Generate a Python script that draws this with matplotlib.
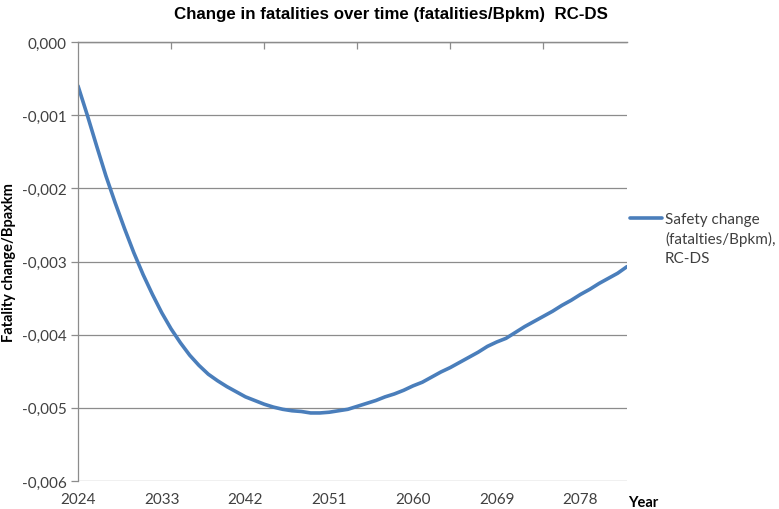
"""Change in fatalities over time (fatalities/Bpkm), RC-DS."""
import numpy as np
import matplotlib; matplotlib.use("Agg")
import matplotlib.pyplot as plt
from matplotlib.ticker import FuncFormatter

years = list(range(2024, 2084))
safety_change = [
    -0.00060, -0.00100, -0.00142, -0.00183, -0.00220, -0.00255, -0.00288, -0.00318,
    -0.00345, -0.00370, -0.00392, -0.00411, -0.00428, -0.00442, -0.00454, -0.00463,
    -0.00471, -0.00478, -0.00485, -0.00490, -0.00495, -0.00499, -0.00502, -0.00504,
    -0.00505, -0.00507, -0.00507, -0.00506, -0.00504, -0.00502, -0.00498, -0.00494,
    -0.00490, -0.00485, -0.00481, -0.00476, -0.00470, -0.00465, -0.00458, -0.00451,
    -0.00445, -0.00438, -0.00431, -0.00424, -0.00416, -0.00410, -0.00405, -0.00397,
    -0.00389, -0.00382, -0.00375, -0.00368, -0.00360, -0.00353, -0.00345, -0.00338,
    -0.00330, -0.00323, -0.00316, -0.00307,
]
label_years = [2024, 2033, 2042, 2051, 2060, 2069, 2078]
top_tick_years = [2034, 2044, 2054, 2064, 2074]
y_ticks = [0.0, -0.001, -0.002, -0.003, -0.004, -0.005, -0.006]
legend_lines = ["Safety change", "(fatalties/Bpkm),", "RC-DS"]

GRID = "#8c8c8c"
LINE = "#4a7ebb"
TXT = "#404040"
BODY = "Lato"

fig = plt.figure(figsize=(7.79, 5.10), dpi=100)
ax = fig.add_axes([78/779, 1 - 482/510, (627 - 78)/779, (482 - 43)/510])

ax.plot(years, safety_change, color=LINE, lw=2.6, solid_capstyle="round",
        label=legend_lines[0])

ax.set_xlim(2024, 2083)
ax.set_ylim(-0.006, 0.0)
ax.set_yticks(y_ticks)
ax.yaxis.set_major_formatter(FuncFormatter(lambda v, p: f"{v:.3f}".replace(".", ",").replace("-0,000", "0,000")))
ax.grid(axis="y", color=GRID, lw=0.9)
ax.set_axisbelow(True)

ax.set_xticks(label_years)
ax.tick_params(axis="x", length=0, pad=8, labelsize=11, labelcolor=TXT)
ax.tick_params(axis="y", length=5, color=GRID, width=0.9, pad=3, labelsize=11, labelcolor=TXT)
for lbl in ax.get_xticklabels() + ax.get_yticklabels():
    lbl.set_fontfamily(BODY)

for s in ["right", "bottom"]:
    ax.spines[s].set_visible(False)
for s in ["left", "top"]:
    ax.spines[s].set_color(GRID)
    ax.spines[s].set_linewidth(0.9)

# category-axis style tick marks on the x axis line at the top
sec = ax.secondary_xaxis("top")
sec.set_xticks(top_tick_years)
sec.tick_params(direction="in", length=5, color=GRID, width=0.9, labeltop=False)
sec.spines["top"].set_color(GRID)
sec.spines["top"].set_linewidth(0.9)

fig.text(9/779, 1 - 263/510, "Fatality change/Bpaxkm", fontfamily=BODY, fontweight="bold",
         fontsize=10.5, color="black", rotation=90, ha="center", va="center")
fig.text(628/779, 1 - 503/510, "Year", fontfamily=BODY, fontweight="bold",
         fontsize=10.5, va="center", ha="left")
fig.text(391/779, 1 - 14/510, "Change in fatalities over time (fatalities/Bpkm)  RC-DS",
         fontfamily="Liberation Sans", fontweight="bold", fontsize=12.2, ha="center", va="center")

# legend: handle sits beside the first line, the rest wraps underneath
leg = ax.legend(loc="center left", bbox_to_anchor=(630/779, 1 - 220/510),
                bbox_transform=fig.transFigure, frameon=False,
                prop={"family": BODY, "size": 11}, handlelength=2.1,
                handletextpad=0.2, borderaxespad=0, borderpad=0)
for t in leg.get_texts():
    t.set_color(TXT)
for i, line in enumerate(legend_lines[1:], start=1):
    fig.text(665/779, 1 - (220 + 19.5 * i)/510, line, fontfamily=BODY, fontsize=11,
             color=TXT, ha="left", va="center")

fig.savefig("out.png", dpi=100)
